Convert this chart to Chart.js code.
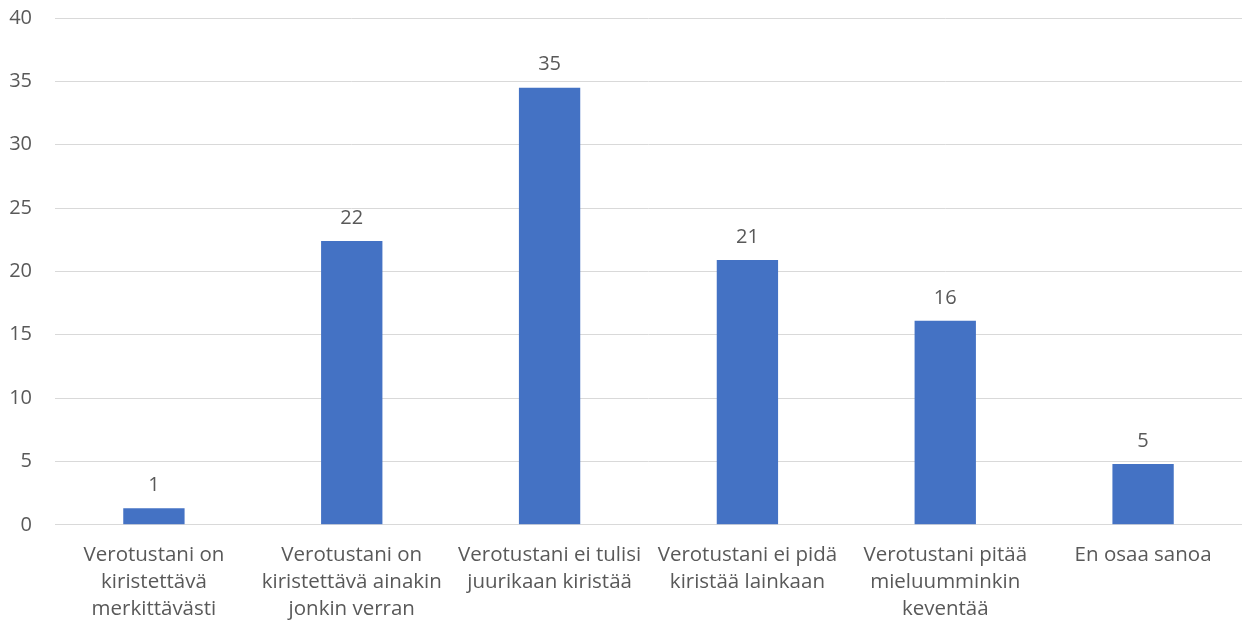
<!DOCTYPE html>
<html>
<head>
<meta charset="utf-8">
<script src="https://cdn.jsdelivr.net/npm/chart.js@4"></script>
<style>
  html, body { margin: 0; padding: 0; background: #fff; overflow: hidden; }
  #wrap { width: 1242px; height: 632px; }
</style>
</head>
<body>
<div id="wrap"><canvas id="chart"></canvas></div>
<script>
// kategoriat ja arvot (%)
const kategoriat = [
  ["Verotustani on", "kiristettävä", "merkittävästi"],
  ["Verotustani on", "kiristettävä ainakin", "jonkin verran"],
  ["Verotustani ei tulisi", "juurikaan kiristää"],
  ["Verotustani ei pidä", "kiristää lainkaan"],
  ["Verotustani pitää", "mieluumminkin", "keventää"],
  ["En osaa sanoa"]
];
const arvot = [1.3, 22.4, 34.5, 20.9, 16.1, 4.8];
const arvoTekstit = ["1", "22", "35", "21", "16", "5"];

const harmaa = "#595959";
const fontti = "'Open Sans', Lato, sans-serif";

// arvot pylväiden päälle
const arvoPlugin = {
  id: "arvot",
  afterDatasetsDraw(chart) {
    const ctx = chart.ctx;
    const meta = chart.getDatasetMeta(0);
    ctx.save();
    ctx.font = "20px " + fontti;
    ctx.fillStyle = harmaa;
    ctx.textAlign = "center";
    ctx.textBaseline = "bottom";
    meta.data.forEach((bar, i) => {
      ctx.fillText(arvoTekstit[i], bar.x, bar.y - 13);
    });
    ctx.restore();
  }
};

new Chart(document.getElementById("chart"), {
  type: "bar",
  data: {
    labels: kategoriat,
    datasets: [{
      data: arvot,
      backgroundColor: "#4472C4",
      barPercentage: 0.31,
      categoryPercentage: 1
    }]
  },
  options: {
    responsive: true,
    maintainAspectRatio: false,
    animation: false,
    layout: { padding: { top: 18, right: 0, bottom: 0, left: 0 } },
    plugins: { legend: { display: false }, tooltip: { enabled: false } },
    scales: {
      x: {
        grid: { display: false },
        border: { color: "#d9d9d9" },
        ticks: {
          color: harmaa,
          font: { family: fontti, size: 20.5, lineHeight: 1.32 },
          padding: 9,
          maxRotation: 0,
          autoSkip: false
        }
      },
      y: {
        min: 0,
        max: 40,
        afterFit(scale) { scale.width = 55; },
        grid: {
          color: "#d9d9d9",
          drawTicks: true,
          tickLength: 19,
          tickColor: "rgba(0,0,0,0)"
        },
        border: { display: false },
        ticks: {
          stepSize: 5,
          color: harmaa,
          font: { family: fontti, size: 20 },
          padding: 4
        }
      }
    }
  },
  plugins: [arvoPlugin]
});
</script>
</body>
</html>
